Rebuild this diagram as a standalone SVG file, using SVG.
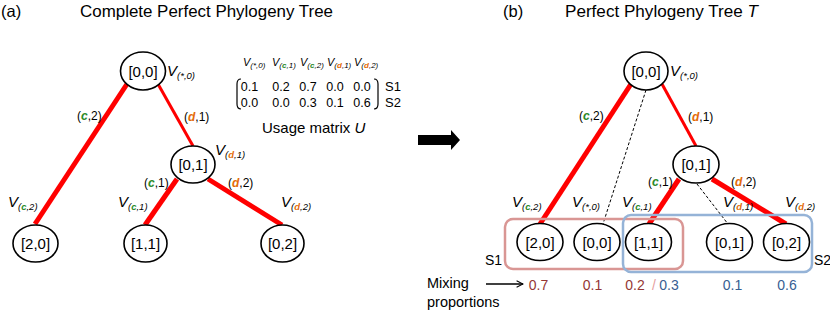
<svg xmlns="http://www.w3.org/2000/svg" width="830" height="310" viewBox="0 0 830 310">
<defs>
<style>
text{font-family:"Liberation Sans",Arial,sans-serif;fill:#000}
.ttl{font-size:16.5px}
.node ellipse{fill:#fff;stroke:#000;stroke-width:1.6}
.node text{font-size:15px;text-anchor:middle}
.v{font-size:15px;font-style:italic}
.vs{font-size:9.5px;font-style:italic}
.hv{font-size:11px;font-style:italic}
.hs{font-size:8px;font-style:italic}
.el{font-size:12px}
.g{fill:#2a8a2a;font-weight:bold;font-style:italic}
.o{fill:#e46c0a;font-weight:bold;font-style:italic}
.red{stroke:#ff0000;fill:none}
.dash{stroke:#000;stroke-width:1;stroke-dasharray:3,2;fill:none}
.mat{font-size:12.5px}
.mix{font-size:14px;text-anchor:middle}
.mr{fill:#953735}
.mb{fill:#376092}
.sl{fill:#e6a09e}
</style>
<marker id="ah" viewBox="0 0 10 10" refX="9" refY="5" markerWidth="8" markerHeight="8" markerUnits="userSpaceOnUse" orient="auto">
<path d="M1,1 L9,5 L1,9" fill="none" stroke="#000" stroke-width="1.3"/>
</marker>
</defs>

<!-- titles -->
<text class="ttl" x="1" y="17" font-size="17">(a)</text>
<text class="ttl" x="80" y="17" textLength="253" lengthAdjust="spacingAndGlyphs">Complete  Perfect  Phylogeny  Tree</text>
<text class="ttl" x="503" y="17" font-size="17">(b)</text>
<text class="ttl" x="565" y="17" textLength="193" lengthAdjust="spacingAndGlyphs">Perfect Phylogeny  Tree <tspan font-style="italic">T</tspan></text>

<!-- connectors -->
<g id="connectors">
<line class="red" x1="127" y1="84" x2="35" y2="224" stroke-width="5"/>
<line class="red" x1="158" y1="84" x2="193" y2="146" stroke-width="3"/>
<line class="red" x1="177" y1="179" x2="145" y2="225" stroke-width="5"/>
<line class="red" x1="208" y1="179" x2="282" y2="225" stroke-width="5"/>

<line class="red" x1="631" y1="84" x2="540" y2="224" stroke-width="5"/>
<line class="dash" x1="646" y1="90" x2="603" y2="224"/>
<line class="red" x1="662" y1="84" x2="696" y2="146" stroke-width="3"/>
<line class="red" x1="679" y1="179" x2="649" y2="224" stroke-width="5"/>
<line class="dash" x1="697" y1="184" x2="728" y2="224"/>
<line class="red" x1="712" y1="179" x2="786" y2="224" stroke-width="5"/>

<path d="M418,135 H451 V130 L460,140 L451,150 V145 H418 Z" fill="#000"/>
<line x1="486" y1="284" x2="523" y2="284" stroke="#000" stroke-width="1.3" marker-end="url(#ah)"/>
</g>

<!-- edge labels -->
<text class="el" x="77" y="120">(<tspan class="g">c</tspan>,2)</text>
<text class="el" x="184" y="121">(<tspan class="o">d</tspan>,1)</text>
<text class="el" x="144" y="187">(<tspan class="g">c</tspan>,1)</text>
<text class="el" x="228" y="187">(<tspan class="o">d</tspan>,2)</text>

<text class="el" x="579" y="120">(<tspan class="g">c</tspan>,2)</text>
<text class="el" x="688" y="121">(<tspan class="o">d</tspan>,1)</text>
<text class="el" x="648" y="186">(<tspan class="g">c</tspan>,1)</text>
<text class="el" x="731" y="186">(<tspan class="o">d</tspan>,2)</text>

<!-- panel (a) nodes -->
<g id="a-root" class="node"><ellipse cx="143" cy="71" rx="22.5" ry="19"/><text x="143" y="76.5">[0,0]</text></g>
<g id="a-01" class="node"><ellipse cx="193" cy="164.5" rx="22" ry="18.5"/><text x="193" y="170">[0,1]</text></g>
<g id="a-20" class="node"><ellipse cx="35.5" cy="243.5" rx="22.5" ry="18.5"/><text x="35.5" y="249">[2,0]</text></g>
<g id="a-11" class="node"><ellipse cx="145.5" cy="243.5" rx="21.5" ry="18.5"/><text x="145.5" y="249">[1,1]</text></g>
<g id="a-02" class="node"><ellipse cx="282.5" cy="243.5" rx="21.5" ry="18.5"/><text x="282.5" y="249">[0,2]</text></g>

<!-- panel (a) V labels -->
<text class="v" x="167" y="76">V<tspan class="vs" dy="3">(*,0)</tspan></text>
<text class="v" x="215" y="155">V<tspan class="vs" dy="3">(<tspan class="o">d</tspan>,1)</tspan></text>
<text class="v" x="8" y="207">V<tspan class="vs" dy="3">(<tspan class="g">c</tspan>,2)</tspan></text>
<text class="v" x="118" y="207">V<tspan class="vs" dy="3">(<tspan class="g">c</tspan>,1)</tspan></text>
<text class="v" x="281" y="207">V<tspan class="vs" dy="3">(<tspan class="o">d</tspan>,2)</tspan></text>

<!-- usage matrix -->
<g id="usage-matrix">
<text class="hv" x="243" y="66">V<tspan class="hs" dy="2">(*,0)</tspan></text>
<text class="hv" x="272" y="66">V<tspan class="hs" dy="2">(<tspan class="g">c</tspan>,1)</tspan></text>
<text class="hv" x="300" y="66">V<tspan class="hs" dy="2">(<tspan class="g">c</tspan>,2)</tspan></text>
<text class="hv" x="327" y="66">V<tspan class="hs" dy="2">(<tspan class="o">d</tspan>,1)</tspan></text>
<text class="hv" x="354" y="66">V<tspan class="hs" dy="2">(<tspan class="o">d</tspan>,2)</tspan></text>
<path d="M241,79 Q237,79 237,84 V104 Q237,109 241,109" fill="none" stroke="#000" stroke-width="1.2"/>
<path d="M374,79 Q378,79 378,84 V104 Q378,109 374,109" fill="none" stroke="#000" stroke-width="1.2"/>
<g text-anchor="middle">
<text class="mat" x="249.5" y="91">0.1</text>
<text class="mat" x="281" y="91">0.2</text>
<text class="mat" x="308" y="91">0.7</text>
<text class="mat" x="335" y="91">0.0</text>
<text class="mat" x="362" y="91">0.0</text>
<text class="mat" x="249.5" y="107">0.0</text>
<text class="mat" x="281" y="107">0.0</text>
<text class="mat" x="308" y="107">0.3</text>
<text class="mat" x="335" y="107">0.1</text>
<text class="mat" x="362" y="107">0.6</text>
</g>
<text x="385" y="91" font-size="13">S1</text>
<text x="385" y="107" font-size="13">S2</text>
<text x="262" y="133" font-size="15">Usage matrix <tspan font-style="italic">U</tspan></text>
</g>

<!-- panel (b) sample boxes -->
<rect id="s1-box" x="505" y="219" width="178" height="50" rx="8" fill="none" stroke="#d99694" stroke-width="2.5"/>
<rect id="s2-box" x="623" y="215" width="189" height="57" rx="8" fill="none" stroke="#95b3d7" stroke-width="2.5"/>
<text x="485" y="265" font-size="14">S1</text>
<text x="814" y="265" font-size="14">S2</text>

<!-- panel (b) nodes -->
<g id="b-root" class="node"><ellipse cx="646" cy="71" rx="22" ry="19"/><text x="646" y="76.5">[0,0]</text></g>
<g id="b-01" class="node"><ellipse cx="696" cy="164.5" rx="23" ry="18.5"/><text x="696" y="170">[0,1]</text></g>
<g id="b-20" class="node"><ellipse cx="540" cy="242" rx="23" ry="18.5"/><text x="540" y="247.5">[2,0]</text></g>
<g id="b-00" class="node"><ellipse cx="597" cy="242" rx="23" ry="18.5"/><text x="597" y="247.5">[0,0]</text></g>
<g id="b-11" class="node"><ellipse cx="648.5" cy="242" rx="23" ry="18.5"/><text x="648.5" y="247.5">[1,1]</text></g>
<g id="b-01leaf" class="node"><ellipse cx="729.5" cy="242" rx="23" ry="18.5"/><text x="729.5" y="247.5">[0,1]</text></g>
<g id="b-02" class="node"><ellipse cx="786.5" cy="242" rx="23" ry="18.5"/><text x="786.5" y="247.5">[0,2]</text></g>

<!-- panel (b) V labels -->
<text class="v" x="670" y="76">V<tspan class="vs" dy="3">(*,0)</tspan></text>
<text class="v" x="512" y="207">V<tspan class="vs" dy="3">(<tspan class="g">c</tspan>,2)</tspan></text>
<text class="v" x="572" y="207">V<tspan class="vs" dy="3">(*,0)</tspan></text>
<text class="v" x="622" y="207">V<tspan class="vs" dy="3">(<tspan class="g">c</tspan>,1)</tspan></text>
<text class="v" x="723" y="207">V<tspan class="vs" dy="3">(<tspan class="o">d</tspan>,1)</tspan></text>
<text class="v" x="785" y="207">V<tspan class="vs" dy="3">(<tspan class="o">d</tspan>,2)</tspan></text>

<!-- mixing proportions -->
<text x="427" y="288" font-size="14.5">Mixing</text>
<text x="427" y="307" font-size="14.5">proportions</text>
<text class="mix mr" x="538.5" y="290">0.7</text>
<text class="mix mr" x="592.5" y="290">0.1</text>
<text class="mix mr" x="635" y="290">0.2</text>
<text class="mix sl" x="654" y="290">/</text>
<text class="mix mb" x="669" y="290">0.3</text>
<text class="mix mb" x="732.5" y="290">0.1</text>
<text class="mix mb" x="787" y="290">0.6</text>
</svg>
